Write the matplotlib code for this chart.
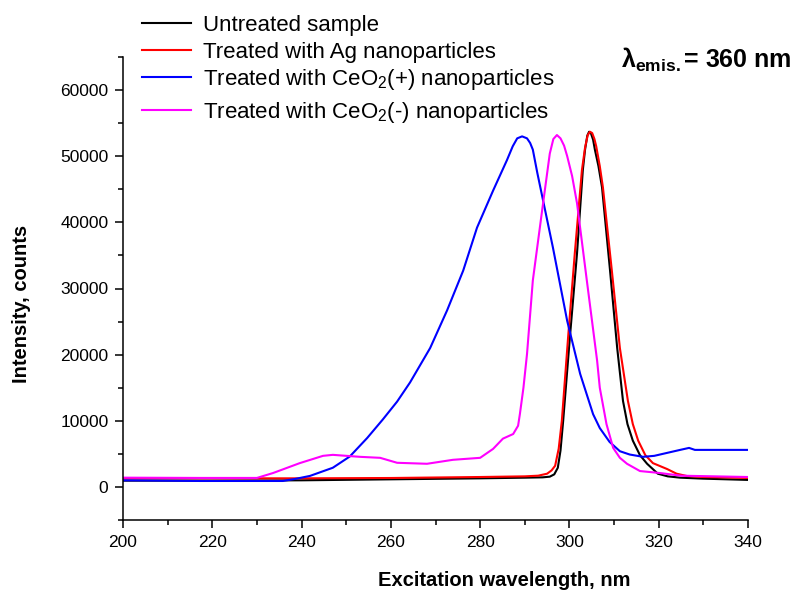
import numpy as np
import matplotlib
matplotlib.use('Agg')
import matplotlib.pyplot as plt
from matplotlib.lines import Line2D

plt.rcParams['font.family'] = ['Liberation Sans', 'DejaVu Sans']
plt.rcParams['mathtext.fontset'] = 'custom'
plt.rcParams['mathtext.rm'] = 'Liberation Sans'
plt.rcParams['mathtext.bf'] = 'Liberation Sans:bold'
plt.rcParams['mathtext.it'] = 'Liberation Sans:italic'

# wavelength (nm) / intensity (counts)
wl_untreated = [200, 220, 240, 260, 280, 290, 294, 295.6, 296.6, 297.4, 298.0, 298.6, 300.1,
                301.7, 303.0, 303.5, 304.0, 304.4, 304.8, 305.3, 305.7, 306.5, 307.3, 309.1,
                310.7, 312.0, 313.0, 314.2, 315.8, 317.4, 319.8, 322, 324.8, 330, 340]
int_untreated = [950, 950, 1000, 1150, 1300, 1400, 1450, 1550, 1900, 2900, 5500, 10000, 22600,
                 35300, 47900, 51000, 53100, 53700, 53500, 52500, 51000, 48500, 45300, 32700,
                 21000, 13000, 9500, 7000, 4800, 3500, 2000, 1600, 1400, 1250, 1060]

wl_ag = [200, 220, 240, 260, 280, 290, 293, 295.0, 296.0, 296.8, 297.6, 298.3, 299.7, 301.2,
         302.8, 303.5, 304.1, 304.6, 305.1, 305.6, 306.0, 306.8, 307.5, 309.5, 311.3, 313.1,
         314.2, 315.4, 317.0, 318.7, 321.9, 324, 326.3, 330, 340]
int_ag = [1300, 1300, 1300, 1350, 1500, 1600, 1700, 2000, 2500, 3200, 5800, 10000, 22600, 35300,
          47900, 51300, 53200, 53700, 53500, 52600, 51500, 48500, 45300, 32700, 21000, 13000,
          9500, 7000, 4800, 3600, 2700, 2000, 1650, 1500, 1360]

wl_ceo2_pos = [200, 217.2, 235.8, 238.5, 241.9, 247.0, 250.8, 254.7, 258.2, 261.4, 264.3, 268.8,
               272.6, 276.2, 279.3, 282.9, 286.0, 287.3, 288.3, 289.4, 290.5, 291.2, 291.8,
               292.8, 294.1, 296.3, 299.5, 302.4, 305.3, 306.8, 309.0, 311.3, 313.5, 316.5,
               319.0, 321.9, 324.8, 326.8, 328.1, 340]
int_ceo2_pos = [1000, 900, 900, 1200, 1670, 2900, 4600, 7400, 10200, 12900, 15800, 21000,
                26700, 32700, 39200, 44800, 49400, 51500, 52700, 53000, 52700, 52000, 51000,
                47500, 43300, 36200, 25100, 17100, 11000, 8900, 6800, 5400, 4900, 4550,
                4700, 5150, 5600, 5900, 5600, 5600]

wl_ceo2_neg = [200, 217.2, 230.0, 233.6, 239.6, 244.8, 247.0, 253.1, 257.6, 261.4, 268.1,
               273.9, 280.0, 282.9, 285.1, 287.4, 288.5, 288.9, 289.7, 290.5, 291.8, 294.1,
               295.6, 296.4, 297.2, 298.0, 298.8, 299.5, 300.6, 301.7, 303.9, 306.2, 306.8,
               308.3, 309.8, 311.3, 312.9, 315.8, 320.3, 325, 340]
int_ceo2_neg = [1400, 1360, 1360, 2100, 3600, 4700, 4850, 4550, 4400, 3650, 3500,
                4100, 4400, 5750, 7300, 8000, 9250, 11000, 15000, 20100, 31200, 42900,
                50400, 52600, 53200, 52700, 51600, 50000, 47000, 42900, 31200, 19100, 15000,
                9500, 5900, 4400, 3500, 2400, 2100, 1700, 1500]

labels = ['Untreated sample', 'Treated with Ag nanoparticles',
          'Treated with CeO$_2$(+) nanoparticles', 'Treated with CeO$_2$(-) nanoparticles']
colors = ['#000000', '#ff0000', '#0000ff', '#ff00ff']
legend_rows = [23, 50, 77, 110]  # pixel rows of the legend samples

W, H = 797, 594
fig = plt.figure(figsize=(W / 100, H / 100), dpi=100)
ax = fig.add_axes([123 / W, 1 - 520 / H, 625 / W, 463 / H])

series = [(wl_untreated, int_untreated), (wl_ag, int_ag),
          (wl_ceo2_pos, int_ceo2_pos), (wl_ceo2_neg, int_ceo2_neg)]
for (x, y), c, lab in zip(series, colors, labels):
    ax.plot(x, y, color=c, lw=1.5, label=lab, solid_joinstyle='round')

ax.set_xlim(200, 340)
ax.set_ylim(-5000, 65000)
ax.set_xticks(np.arange(200, 341, 20))
ax.set_xticks(np.arange(200, 341, 10), minor=True)
ax.set_yticks(np.arange(0, 60001, 10000))
ax.set_yticks(np.arange(-5000, 65001, 5000), minor=True)
ax.spines['top'].set_visible(False)
ax.spines['right'].set_visible(False)
for s in ['left', 'bottom']:
    ax.spines[s].set_linewidth(1.1)
ax.tick_params(which='major', direction='out', length=6, width=1.1, labelsize=12.5, pad=4.5)
ax.tick_params(which='minor', direction='out', length=3.5, width=1.1)

fig.text(504 / W, 1 - 581 / H, 'Excitation wavelength, nm', ha='center', va='center',
         fontsize=14.5, fontweight='bold')
fig.text(22 / W, 1 - 304 / H, 'Intensity, counts', ha='center', va='center',
         rotation=90, fontsize=14.5, fontweight='bold')

fig.text(621 / W, 1 - 68 / H, r'$\mathbf{\lambda_{emis.}}$= 360 nm', ha='left', va='baseline',
         fontsize=18, fontweight='bold')

# legend drawn by hand so the row spacing follows the original
for row, c, lab in zip(legend_rows, colors, labels):
    fig.add_artist(Line2D([142 / W, 191 / W], [1 - row / H, 1 - row / H],
                          color=c, lw=1.5, transform=fig.transFigure))
    fig.text(203 / W, 1 - (row + 8) / H, lab, ha='left', va='baseline', fontsize=16)

fig.savefig('out.png', dpi=100)
